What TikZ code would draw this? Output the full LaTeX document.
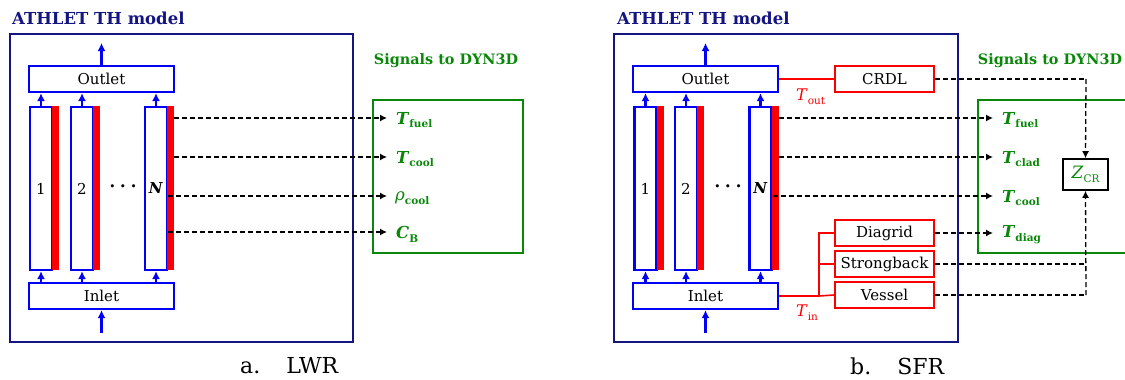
\documentclass[tikz,border=0pt]{standalone}
\usepackage{fontspec}
\setmainfont{DejaVu Serif}
\usetikzlibrary{arrows.meta,calc}
\definecolor{navy}{RGB}{20,20,130}
\definecolor{sgreen}{RGB}{10,135,10}
\definecolor{cblue}{RGB}{0,0,245}
\definecolor{cred}{RGB}{250,0,0}
\newcommand{\subsz}{\fontsize{10.5}{12}\selectfont}
\newcommand{\sgl}[2]{\textbf{\textit{#1}}\raisebox{-0.45ex}{\subsz\textbf{#2}}}
\newcommand{\tvar}[2]{\textit{#1}\raisebox{-0.45ex}{\subsz #2}}
\begin{document}
\begin{tikzpicture}[x=1pt,y=-1pt,
  navybox/.style={draw=navy,line width=2.2pt,inner sep=0pt},
  bluebox/.style={draw=cblue,line width=2.2pt,fill=white,inner sep=0pt,font=\fontsize{15}{17}\selectfont},
  colbox/.style={draw=cblue,line width=2.2pt,fill=white,inner sep=0pt,minimum width=22pt,minimum height=163pt,font=\fontsize{15}{17}\selectfont},
  redbar/.style={fill=cred,inner sep=0pt,outer sep=0pt,minimum width=7pt,minimum height=164pt},
  redbox/.style={draw=cred,line width=2pt,fill=white,inner sep=0pt,minimum width=99pt,minimum height=26pt,font=\fontsize{15}{17}\selectfont},
  greenbox/.style={draw=sgreen,line width=2.2pt,inner sep=0pt},
  flow/.style={draw=cblue,line width=2.2pt,-{Latex[length=8pt,width=8pt]}},
  redline/.style={draw=cred,line width=1.6pt},
  sig/.style={draw=black,line width=1.3pt,dash pattern=on 5pt off 3pt,-{Latex[length=7pt,width=7pt]}},
  sigline/.style={draw=black,line width=1.3pt,dash pattern=on 5pt off 3pt},
  siglab/.style={text=sgreen,inner sep=0pt,anchor=west,font=\fontsize{16.5}{18}\selectfont},
  title/.style={text=navy,font=\fontsize{16.5}{18}\selectfont\bfseries,inner sep=0pt,anchor=west},
  gtitle/.style={text=sgreen,font=\fontsize{14.4}{16}\selectfont\bfseries,inner sep=0pt},
  rlab/.style={text=cred,inner sep=0pt,font=\fontsize{16}{18}\selectfont},
  dots/.style={inner sep=0pt,font=\fontsize{21}{22}\selectfont\boldmath},
  caption/.style={inner sep=0pt,anchor=west,font=\fontsize{22}{24}\selectfont}
]
\useasboundingbox (0,0) rectangle (1125,380);
\clip (0,0) rectangle (1125,380);

% ================= Panel a (LWR) =================
\node[title] (tA) at (12,18) {ATHLET TH model};
\node[navybox,anchor=north west,minimum width=343pt,minimum height=308pt] (frameA) at (9,33) {};
\node[bluebox,minimum width=145pt,minimum height=26pt] (outA) at (101.5,79) {Outlet};
\node[bluebox,minimum width=145pt,minimum height=26pt] (inA) at (101.5,296) {Inlet};
\node[colbox] (c1A) at (41,188.5) {1};
\node[colbox] (c2A) at (82,188.5) {2};
\node[colbox] (cNA) at (156,188.5) {\textbf{\textit{N}}};
\node[redbar,anchor=north west] (r1A) at ($(c1A.north east)+(-1.1,0)$) {};
\node[redbar,anchor=north west] (r2A) at ($(c2A.north east)+(-1.1,0)$) {};
\node[redbar,anchor=north west] (rNA) at ($(cNA.north east)+(-1.1,0)$) {};
\node[dots] (dotsA) at (123,187) {$\cdots$};
\coordinate (topA) at (101.5,43);
\coordinate (botA) at (101.5,333);
\draw[flow] (outA.north) -- (topA);
\draw[flow] (botA) -- (inA.south);
\foreach \c in {c1A,c2A,cNA}{
  \draw[flow] (\c.north) -- (\c.north |- outA.south);
  \draw[flow] (inA.north -| \c.north) -- (\c.south);
}
\node[gtitle] (gtA) at (446,61) {Signals to DYN3D};
\node[greenbox,anchor=north west,minimum width=150pt,minimum height=153pt] (gA) at (372,99) {};
\node[siglab] (s1A) at (396,120) {\sgl{T}{fuel}};
\node[siglab] (s2A) at (396,159) {\sgl{T}{cool}};
\node[siglab] (s3A) at (395,198) {\textit{ρ}\raisebox{-0.45ex}{\subsz\textbf{cool}}};
\node[siglab] (s4A) at (396,234) {\sgl{C}{B}};
\coordinate (e1A) at (387,118);
\coordinate (e2A) at (387,157);
\coordinate (e3A) at (387,196);
\coordinate (e4A) at (387,232);
\draw[sig] (rNA.east |- e1A) -- (e1A);
\draw[sig] (rNA.east |- e2A) -- (e2A);
\draw[sig] (cNA.east |- e3A) -- (e3A);
\draw[sig] (cNA.east |- e4A) -- (e4A);
\node[caption] (capA) at (240,366) {a.\hspace{26pt}LWR};

% ================= Panel b (SFR) =================
\node[title] (tB) at (617,18) {ATHLET TH model};
\node[navybox,anchor=north west,minimum width=344pt,minimum height=308pt] (frameB) at (613,33) {};
\node[bluebox,minimum width=145pt,minimum height=26pt] (outB) at (705.5,79) {Outlet};
\node[bluebox,minimum width=145pt,minimum height=26pt] (inB) at (705.5,296) {Inlet};
\node[colbox] (c1B) at (645.5,188.5) {1};
\node[colbox] (c2B) at (686,188.5) {2};
\node[colbox] (cNB) at (760.5,188.5) {\textbf{\textit{N}}};
\node[redbar,anchor=north west] (r1B) at ($(c1B.north east)+(-1.1,0)$) {};
\node[redbar,anchor=north west] (r2B) at ($(c2B.north east)+(-1.1,0)$) {};
\node[redbar,anchor=north west] (rNB) at ($(cNB.north east)+(-1.1,0)$) {};
\node[dots] (dotsB) at (728,187) {$\cdots$};
\coordinate (topB) at (705.5,43);
\coordinate (botB) at (705.5,333);
\draw[flow] (outB.north) -- (topB);
\draw[flow] (botB) -- (inB.south);
\foreach \c in {c1B,c2B,cNB}{
  \draw[flow] (\c.north) -- (\c.north |- outB.south);
  \draw[flow] (inB.north -| \c.north) -- (\c.south);
}
% red components
\node[redbox] (crdl) at (884.5,79) {CRDL};
\node[redbox] (diag) at (884.5,233) {Diagrid};
\node[redbox] (strb) at (884.5,264) {Strongback};
\node[redbox] (vess) at (884.5,295) {Vessel};
\draw[redline] (outB.east) -- (crdl.west);
\node[rlab,anchor=west] (tout) at (796,97) {\tvar{T}{out}};
\coordinate (jct) at (819,296);
\draw[redline] (inB.east) -- (jct);
\draw[redline] (jct) |- (diag.west);
\draw[redline] (jct |- strb.west) -- (strb.west);
\draw[redline] (jct) -- (vess.west);
\node[rlab,anchor=west] (tin) at (796,313) {\tvar{T}{in}};
% signals
\node[gtitle] (gtB) at (1050,61) {Signals to DYN3D};
\node[greenbox,anchor=north west,minimum width=170pt,minimum height=153pt] (gB) at (977,99) {};
\node[siglab] (s1B) at (1002,120) {\sgl{T}{fuel}};
\node[siglab] (s2B) at (1002,159) {\sgl{T}{clad}};
\node[siglab] (s3B) at (1002,198) {\sgl{T}{cool}};
\node[siglab] (s4B) at (1002,235) {\sgl{T}{diag}};
\coordinate (e1B) at (993,118);
\coordinate (e2B) at (993,157);
\coordinate (e3B) at (993,196);
\coordinate (e4B) at (993,233);
\draw[sig] (rNB.east |- e1B) -- (e1B);
\draw[sig] (rNB.east |- e2B) -- (e2B);
\draw[sig] (cNB.east |- e3B) -- (e3B);
\draw[sig] (diag.east) -- (e4B);
\node[draw=black,line width=1.6pt,minimum width=45pt,minimum height=31pt,inner sep=0pt,text=sgreen,font=\fontsize{17}{18}\selectfont] (zcr) at (1085.5,174.5) {\textit{Z}\raisebox{-0.45ex}{\subsz CR}};
\coordinate (crdlc) at (1086,79);
\coordinate (vessc) at (1086,295);
\draw[sigline] (crdl.east) -- (crdlc);
\draw[sig] (crdlc) -- (zcr.north);
\draw[sigline] (vess.east) -- (vessc);
\draw[sigline] (strb.east) -- (strb.east -| vessc);
\draw[sig] (vessc) -- (zcr.south);
\node[caption] (capB) at (850,366) {b.\hspace{26pt}SFR};
\end{tikzpicture}
\end{document}
